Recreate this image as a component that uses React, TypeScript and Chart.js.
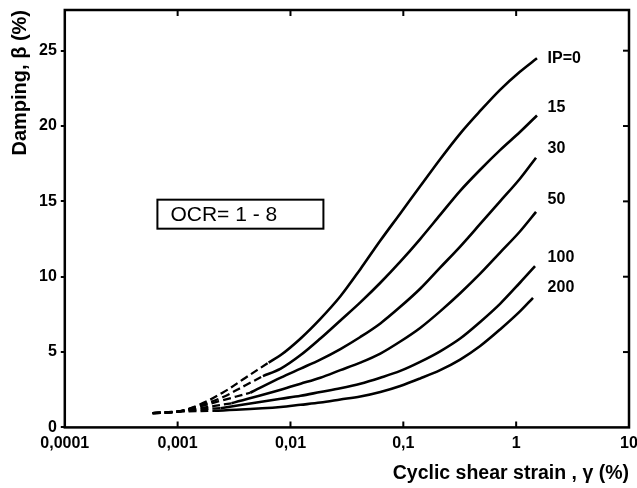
import React, { useEffect, useRef } from 'react';
import { Chart, registerables } from 'chart.js';
Chart.register(...registerables);

// ---- Axis ticks ----
const xTickValues = [0.0001, 0.001, 0.01, 0.1, 1, 10];
const xTickLabels = ['0,0001', '0,001', '0,01', '0,1', '1', '10'];
const yTickValues = [0, 5, 10, 15, 20, 25];

// ---- Curve labels ----
const curveNames = ['IP=0', '15', '30', '50', '100', '200'];
const labelDamping = [24.5, 21.2, 18.5, 15.1, 11.3, 9.3];
const labelStrain = 1.9;

// ---- Solid parts (cyclic shear strain %, damping %) ----
const strainIP0 = [0.0064, 0.0082, 0.0123, 0.0184, 0.0277, 0.0416, 0.0626, 0.094, 0.141, 0.212, 0.319, 0.48, 0.72, 1.08, 1.53];
const dampIP0 = [4.3, 4.8, 5.9, 7.2, 8.7, 10.5, 12.4, 14.2, 16.0, 17.8, 19.5, 21.0, 22.4, 23.6, 24.5];

const strainIP15 = [0.0057, 0.0082, 0.0123, 0.0184, 0.0277, 0.0416, 0.0626, 0.094, 0.141, 0.212, 0.319, 0.48, 0.72, 1.08, 1.53];
const dampIP15 = [3.4, 3.9, 4.8, 5.9, 7.1, 8.3, 9.6, 11.0, 12.5, 14.1, 15.7, 17.1, 18.4, 19.6, 20.7];

const strainIP30 = [0.0044, 0.0082, 0.0123, 0.0184, 0.0277, 0.0416, 0.0626, 0.094, 0.141, 0.212, 0.319, 0.48, 0.72, 1.08, 1.5];
const dampIP30 = [2.3, 3.3, 3.9, 4.5, 5.2, 6.0, 6.9, 8.0, 9.2, 10.6, 12.0, 13.5, 15.0, 16.5, 17.9];

const strainIP50 = [0.003, 0.0082, 0.0123, 0.0184, 0.0277, 0.0416, 0.0626, 0.094, 0.141, 0.212, 0.319, 0.48, 0.72, 1.08, 1.5];
const dampIP50 = [1.6, 2.5, 2.9, 3.3, 3.8, 4.3, 4.9, 5.7, 6.6, 7.7, 8.9, 10.2, 11.6, 13.0, 14.3];

const strainIP100 = [0.0024, 0.0082, 0.0123, 0.0184, 0.0277, 0.0416, 0.0626, 0.094, 0.141, 0.212, 0.319, 0.48, 0.72, 1.08, 1.47];
const dampIP100 = [1.27, 1.9, 2.1, 2.35, 2.6, 2.9, 3.3, 3.75, 4.35, 5.05, 5.9, 7.0, 8.2, 9.6, 10.7];

const strainIP200 = [0.0021, 0.0082, 0.0123, 0.0184, 0.0277, 0.0416, 0.0626, 0.094, 0.141, 0.212, 0.319, 0.48, 0.72, 1.08, 1.41];
const dampIP200 = [1.1, 1.35, 1.5, 1.65, 1.85, 2.05, 2.35, 2.75, 3.25, 3.8, 4.5, 5.4, 6.5, 7.7, 8.6];

// ---- Dashed (extrapolated) parts ----
const dStrainIP0 = [0.0006, 0.001, 0.0015, 0.0025, 0.004, 0.0064];
const dDampIP0 = [0.95, 1.05, 1.45, 2.3, 3.3, 4.3];
const dStrainIP15 = [0.0006, 0.001, 0.0015, 0.0025, 0.004, 0.0057];
const dDampIP15 = [0.95, 1.05, 1.4, 2.0, 2.8, 3.4];
const dStrainIP30 = [0.0006, 0.001, 0.0015, 0.0025, 0.0044];
const dDampIP30 = [0.95, 1.05, 1.35, 1.8, 2.3];
const dStrainIP50 = [0.0006, 0.001, 0.0015, 0.003];
const dDampIP50 = [0.95, 1.05, 1.25, 1.6];
const dStrainIP100 = [0.0006, 0.001, 0.0016, 0.0024];
const dDampIP100 = [0.95, 1.05, 1.2, 1.27];
const dStrainIP200 = [0.0006, 0.001, 0.0021];
const dDampIP200 = [0.95, 1.05, 1.1];

const solidSets = [
  [strainIP0, dampIP0], [strainIP15, dampIP15], [strainIP30, dampIP30],
  [strainIP50, dampIP50], [strainIP100, dampIP100], [strainIP200, dampIP200],
];
const dashedSets = [
  [dStrainIP0, dDampIP0], [dStrainIP15, dDampIP15], [dStrainIP30, dDampIP30],
  [dStrainIP50, dDampIP50], [dStrainIP100, dDampIP100], [dStrainIP200, dDampIP200],
];

const boxText = 'OCR= 1 - 8';
const boxStrain = 0.0036;
const boxDamping = 14.15;

const FONT = "'Liberation Sans', Arial, sans-serif";

const toPts = (xs: number[], ys: number[]) => xs.map((x, i) => ({ x, y: ys[i] }));

const decorPlugin = {
  id: 'decor',
  afterDatasetsDraw(chart: any) {
    const { ctx, chartArea, scales } = chart;
    const xs = scales.x;
    const ys = scales.y;
    const { left, right, top, bottom } = chartArea;
    ctx.save();
    ctx.strokeStyle = '#000';
    ctx.fillStyle = '#000';
    // frame
    ctx.lineWidth = 2.5;
    ctx.strokeRect(left, top, right - left, bottom - top);
    // inward ticks
    ctx.lineWidth = 2;
    const tl = 6;
    xTickValues.forEach((v) => {
      const px = xs.getPixelForValue(v);
      if (px <= left + 1 || px >= right - 1) return;
      ctx.beginPath();
      ctx.moveTo(px, bottom);
      ctx.lineTo(px, bottom - tl);
      ctx.moveTo(px, top);
      ctx.lineTo(px, top + tl);
      ctx.stroke();
    });
    yTickValues.forEach((v) => {
      const py = ys.getPixelForValue(v);
      if (py >= bottom - 1) return;
      ctx.beginPath();
      ctx.moveTo(right, py);
      ctx.lineTo(right - tl, py);
      ctx.stroke();
    });
    // curve labels
    ctx.font = `bold 16px ${FONT}`;
    ctx.textAlign = 'left';
    ctx.textBaseline = 'middle';
    curveNames.forEach((name, i) => {
      ctx.fillText(name, xs.getPixelForValue(labelStrain), ys.getPixelForValue(labelDamping[i]));
    });
    // OCR box
    const cx = xs.getPixelForValue(boxStrain);
    const cy = ys.getPixelForValue(boxDamping);
    const bw = 166, bh = 29;
    ctx.fillStyle = '#fff';
    ctx.fillRect(cx - bw / 2, cy - bh / 2, bw, bh);
    ctx.lineWidth = 2;
    ctx.strokeRect(cx - bw / 2, cy - bh / 2, bw, bh);
    ctx.fillStyle = '#000';
    ctx.font = `21px ${FONT}`;
    ctx.fillText(boxText, cx - bw / 2 + 13, cy + 1);
    ctx.restore();
  },
};

export default function App() {
  const ref = useRef<HTMLCanvasElement | null>(null);
  useEffect(() => {
    if (!ref.current) return;
    const datasets: any[] = [];
    dashedSets.forEach(([xs, ys]) => {
      datasets.push({
        data: toPts(xs, ys),
        borderColor: '#000',
        borderWidth: 2.3,
        borderDash: [8, 4],
        pointRadius: 0,
        tension: 0.4,
        fill: false,
      });
    });
    solidSets.forEach(([xs, ys]) => {
      datasets.push({
        data: toPts(xs, ys),
        borderColor: '#000',
        borderWidth: 2.6,
        pointRadius: 0,
        cubicInterpolationMode: 'monotone',
        fill: false,
      });
    });
    const chart = new Chart(ref.current, {
      type: 'line',
      data: { datasets },
      options: {
        animation: false,
        responsive: false,
        maintainAspectRatio: false,
        layout: { padding: { left: 6, right: 0, top: 10, bottom: 3 } },
        plugins: { legend: { display: false }, tooltip: { enabled: false } },
        scales: {
          x: {
            type: 'logarithmic',
            min: 0.0001,
            max: 10,
            afterBuildTicks: (scale: any) => {
              scale.ticks = xTickValues.map((v) => ({ value: v, major: true }));
            },
            afterFit: (scale: any) => {
              scale.paddingRight = 8;
            },
            ticks: {
              color: '#000',
              font: { family: FONT, size: 16, weight: 'bold' },
              padding: 7,
              maxRotation: 0,
              autoSkip: false,
              callback: (_v: any, i: number) => xTickLabels[i],
            },
            grid: { display: true, drawOnChartArea: false, drawTicks: false },
            border: { display: false },
            title: {
              display: true,
              text: 'Cyclic shear strain , γ (%)',
              align: 'end',
              color: '#000',
              font: { family: FONT, size: 19.5, weight: 'bold' },
              padding: { top: 1, bottom: 0 },
            },
          },
          y: {
            type: 'linear',
            min: 0,
            max: 27.7,
            afterBuildTicks: (scale: any) => {
              scale.ticks = yTickValues.map((v) => ({ value: v }));
            },
            afterFit: (scale: any) => {
              scale.paddingTop = 0;
              scale.paddingBottom = 0;
            },
            ticks: {
              color: '#000',
              font: { family: FONT, size: 16, weight: 'bold' },
              padding: 4,
              callback: (v: any) => String(v),
            },
            grid: {
              display: true,
              drawOnChartArea: false,
              drawTicks: true,
              tickLength: 4,
              color: '#000',
              lineWidth: 2,
            },
            border: { display: false },
            title: {
              display: true,
              text: 'Damping, β (%)',
              align: 'end',
              color: '#000',
              font: { family: FONT, size: 20, weight: 'bold' },
              padding: { top: 2, bottom: 3 },
            },
          },
        },
      },
      plugins: [decorPlugin],
    } as any);
    return () => chart.destroy();
  }, []);
  return (
    <div style={{ position: 'absolute', left: 0, top: 0, width: 637, height: 488, background: '#fff' }}>
      <canvas ref={ref} width={637} height={488} style={{ display: 'block' }} />
    </div>
  );
}
